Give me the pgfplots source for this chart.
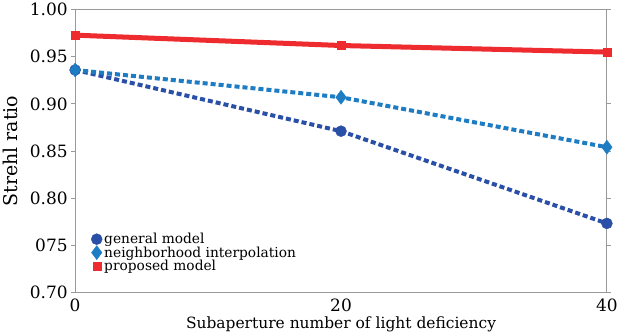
\documentclass[border=0pt]{standalone}
\usepackage{fontspec}
\setmainfont{DejaVu Serif}
\usepackage{pgfplots}
\pgfplotsset{compat=1.18}
\definecolor{dblue}{HTML}{2A4FA6}
\definecolor{lblue}{HTML}{1E7CC2}
\definecolor{pred}{HTML}{EE2B2E}
\begin{document}
\begin{tikzpicture}
\begin{axis}[
  scale only axis,
  width=531bp, height=282bp,
  xmin=0, xmax=40, ymin=0.70, ymax=1.00,
  xtick={0,20,40},
  xticklabels={0,20,40},
  ytick={0.70,0.75,0.80,0.85,0.90,0.95,1.00},
  yticklabels={0.70,075,0.80,0.85,0.90,0.95,1.00},
  tick align=outside,
  major tick length=4bp,
  xtick style={draw=none},
  axis line style={gray!80, line width=0.8pt},
  ytick style={gray!80, line width=0.8pt},
  tick label style={font=\fontsize{17}{20}\selectfont},
  xticklabel style={yshift=1bp},
  xlabel={Subaperture number of light deficiency},
  ylabel={Strehl ratio},
  xlabel style={font=\fontsize{15.5}{18}\selectfont, yshift=2bp},
  ylabel style={font=\fontsize{19}{22}\selectfont, yshift=5bp},
  legend style={draw=none, fill=none, at={(0.028,0.22)}, anchor=north west,
    font=\fontsize{13.8}{14}\selectfont, row sep=-2.5pt, inner sep=1pt},
  legend cell align=left,
  legend image code/.code={\draw[#1, solid] plot coordinates {(0.18cm,0cm)};},
  clip=false,
]
\addplot[dblue, line width=4bp, dash pattern=on 5bp off 3bp, mark=*, mark size=5.5bp, mark options={solid, line width=0.4pt}]
  coordinates {(0,0.936) (20,0.871) (40,0.773)};
\addlegendentry{general model}
\addplot[lblue, line width=4bp, dash pattern=on 5bp off 3bp, mark=diamond*, mark size=7bp, mark options={solid, line width=0.4pt}]
  coordinates {(0,0.936) (20,0.907) (40,0.854)};
\addlegendentry{neighborhood interpolation}
\addplot[pred, line width=5bp, mark=square*, mark size=4bp, mark options={solid, line width=0.4pt}]
  coordinates {(0,0.973) (20,0.962) (40,0.955)};
\addlegendentry{proposed model}
\end{axis}
\end{tikzpicture}
\end{document}
